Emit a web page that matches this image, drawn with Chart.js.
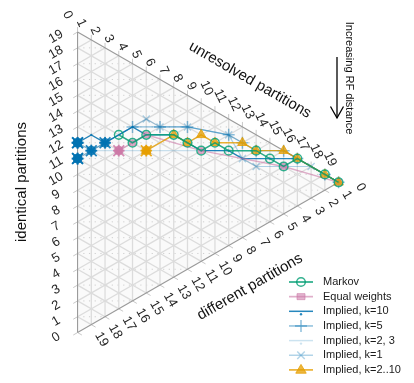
<!DOCTYPE html>
<html lang="en">
<head>
<meta charset="UTF-8">
<title>RF distance ternary</title>
<script src="https://cdn.jsdelivr.net/npm/chart.js"></script>
<style>
  body { margin: 0; background: #fff; }
</style>
</head>
<body>
<canvas id="tern" width="414" height="383"></canvas>
<script>
// partitions per tree; tick labels on each side
const nSplits = 19;
const tickLabels = [0, 1, 2, 3, 4, 5, 6, 7, 8, 9, 10, 11, 12, 13, 14, 15, 16, 17, 18, 19];

// each series: unresolved (u) and identical (i) partitions; different = 19 - u - i
const markovU = [3, 4, 5, 7, 8, 9, 10, 11, 13, 14, 15, 16, 18, 19];
const markovI = [11, 10, 10, 9, 8, 7, 7, 6, 5, 4, 3, 3, 1, 0];

const equalU = [3, 4, 5, 9, 15, 19];
const equalI = [10, 10, 10, 7, 3, 0];

const k10U = [0, 1, 2, 4, 5, 7, 8, 9, 11, 12, 14, 16, 18, 19];
const k10I = [12, 12, 11, 11, 10, 9, 8, 7, 6, 5, 4, 3, 1, 0];

const k5U = [0, 1, 2, 4, 6, 8, 11, 12, 13, 15, 16, 18, 19];
const k5I = [12, 11, 11, 11, 10, 9, 7, 6, 5, 4, 3, 1, 0];

const k23U = [0, 1, 3, 5, 9, 11, 13, 15, 17, 19];
const k23I = [11, 11, 10, 9, 7, 6, 5, 4, 2, 0];

const k1U = [0, 2, 5, 6, 8, 11, 12, 13, 15, 17, 19];
const k1I = [11, 11, 11, 10, 9, 7, 5, 4, 3, 2, 0];

const k210U = [5, 7, 8, 9, 10, 12, 13, 15, 16, 18, 19];
const k210I = [9, 9, 8, 8, 7, 6, 5, 4, 3, 1, 0];

const SQ3 = Math.sqrt(3);
function cart(u, i) { return { x: u * SQ3 / 2, y: i + u / 2 }; }
function toPoints(us, is) { return us.map((u, j) => cart(u, is[j])); }

const FONT = '"Liberation Sans", Arial, Helvetica, sans-serif';

const series = [
  { label: 'Markov', u: markovU, i: markovI, color: 'rgba(0,158,115,0.8)', fill: 'rgba(0,0,0,0)',
    style: 'circle', radius: 4.3, lw: 1.5, pbw: 1.5, order: 0, lead: 0 },
  { label: 'Equal weights', u: equalU, i: equalI, color: 'rgba(204,121,167,0.6)', fill: 'rgba(204,121,167,0.55)',
    style: 'rect', radius: 4, lw: 1.4, pbw: 1, order: 2, lead: 1 },
  { label: 'Implied, k=10', u: k10U, i: k10I, color: 'rgba(0,114,178,0.85)', fill: 'rgba(0,114,178,0.85)',
    style: 'circle', radius: 1.1, lw: 1.2, pbw: 0, order: 3, lead: 1 },
  { label: 'Implied, k=5', u: k5U, i: k5I, color: 'rgba(0,114,178,0.45)', fill: 'rgba(0,114,178,0.45)',
    style: 'cross', radius: 6, lw: 1.2, pbw: 1.5, order: 4, lead: 3 },
  { label: 'Implied, k=2, 3', u: k23U, i: k23I, color: 'rgba(0,114,178,0.2)', fill: 'rgba(0,114,178,0.2)',
    style: 'circle', radius: 1, lw: 1.2, pbw: 0, order: 6, lead: 1 },
  { label: 'Implied, k=1', u: k1U, i: k1I, color: 'rgba(0,114,178,0.3)', fill: 'rgba(0,114,178,0.3)',
    style: 'crossRot', radius: 5, lw: 1.2, pbw: 1.5, order: 5, lead: 1 },
  { label: 'Implied, k=2..10', u: k210U, i: k210I, color: 'rgba(230,159,0,0.8)', fill: 'rgba(230,159,0,0.75)',
    style: 'triangle', radius: 5.5, lw: 1.4, pbw: 1, order: 1, lead: 1 }
];

// pixel helper through the chart scales
function tp(chart, u, i) {
  const c = cart(u, i);
  return [chart.scales.x.getPixelForValue(c.x), chart.scales.y.getPixelForValue(c.y)];
}

function line(ctx, a, b) {
  ctx.beginPath(); ctx.moveTo(a[0], a[1]); ctx.lineTo(b[0], b[1]); ctx.stroke();
}

const gridPlugin = {
  id: 'ternGrid',
  beforeDatasetsDraw(chart) {
    const ctx = chart.ctx, N = nSplits;
    const A = tp(chart, 0, N), B = tp(chart, 0, 0), C = tp(chart, N, 0);
    ctx.save();
    ctx.beginPath();
    ctx.moveTo(A[0], A[1]); ctx.lineTo(C[0], C[1]); ctx.lineTo(B[0], B[1]); ctx.closePath();
    ctx.fillStyle = '#fafafa';
    ctx.fill();
    ctx.save();
    ctx.clip();
    // dotted minor rows
    ctx.strokeStyle = '#c4c4c4';
    ctx.lineWidth = 0.8;
    ctx.setLineDash([1.2, 4.5]);
    for (let k = 1; k < N; k++) {
      const y = chart.scales.y.getPixelForValue(k);
      line(ctx, [A[0], y], [C[0] + 2, y]);
    }
    ctx.restore();
    ctx.setLineDash([]);
    // major grid in the three directions
    ctx.strokeStyle = '#dcdcdc';
    ctx.lineWidth = 1.3;
    for (let k = 1; k < N; k++) {
      line(ctx, tp(chart, k, N - k), tp(chart, k, 0));
      line(ctx, tp(chart, 0, k), tp(chart, N - k, k));
      line(ctx, tp(chart, 0, N - k), tp(chart, N - k, 0));
    }
    // ticks outside the edges
    ctx.strokeStyle = '#c8c8c8';
    ctx.lineWidth = 1;
    const t = 5;
    for (let k = 0; k <= N; k++) {
      const l = tp(chart, 0, k);
      line(ctx, l, [l[0] - t * SQ3 / 2, l[1] + t / 2]);
      const tt = tp(chart, k, N - k);
      line(ctx, tt, [tt[0], tt[1] - t]);
      const b = tp(chart, N - k, 0);
      line(ctx, b, [b[0] + t * SQ3 / 2, b[1] + t / 2]);
    }
    // edges
    ctx.strokeStyle = '#9a9a9a';
    ctx.lineWidth = 1.1;
    line(ctx, A, B); line(ctx, A, C); line(ctx, B, C);
    ctx.restore();
  }
};

function marker(ctx, style, x, y, r, stroke, fill, bw) {
  ctx.save();
  ctx.strokeStyle = stroke; ctx.fillStyle = fill; ctx.lineWidth = bw;
  ctx.beginPath();
  if (style === 'circle') {
    ctx.arc(x, y, r, 0, Math.PI * 2);
    ctx.fill(); if (bw > 0) ctx.stroke();
  } else if (style === 'rect') {
    ctx.rect(x - r, y - r * 0.75, 2 * r, 1.5 * r);
    ctx.fill(); if (bw > 0) ctx.stroke();
  } else if (style === 'triangle') {
    ctx.moveTo(x, y - r); ctx.lineTo(x + r * 0.95, y + r * 0.6); ctx.lineTo(x - r * 0.95, y + r * 0.6); ctx.closePath();
    ctx.fill(); if (bw > 0) ctx.stroke();
  } else if (style === 'cross') {
    ctx.moveTo(x - r, y); ctx.lineTo(x + r, y); ctx.moveTo(x, y - r); ctx.lineTo(x, y + r); ctx.stroke();
  } else if (style === 'crossRot') {
    const d = r * 0.75;
    ctx.moveTo(x - d, y - d); ctx.lineTo(x + d, y + d); ctx.moveTo(x - d, y + d); ctx.lineTo(x + d, y - d); ctx.stroke();
  }
  ctx.restore();
}

// first points of a series are drawn as dense filled blobs (overlapping symbols)
const blobPlugin = {
  id: 'leadBlobs',
  afterDatasetsDraw(chart) {
    const ctx = chart.ctx;
    series.forEach((s, idx) => {
      const meta = chart.getDatasetMeta(idx);
      for (let j = 0; j < s.lead; j++) {
        const el = meta.data[j];
        if (!el) continue;
        const solid = s.color.replace(/[\d.]+\)$/, '0.85)');
        marker(ctx, 'circle', el.x, el.y, 4.8, solid, solid, 0);
        marker(ctx, 'cross', el.x, el.y, 5.8, solid, solid, 1.8);
        marker(ctx, 'crossRot', el.x, el.y, 7.2, solid, solid, 1.8);
      }
    });
  }
};

function text(ctx, str, x, y, rot, size, align) {
  ctx.save();
  ctx.translate(x, y);
  ctx.rotate(rot * Math.PI / 180);
  ctx.font = size + 'px ' + FONT;
  ctx.textAlign = align || 'center';
  ctx.textBaseline = 'middle';
  ctx.fillText(str, 0, 0);
  ctx.restore();
}

const labelPlugin = {
  id: 'ternLabels',
  afterDraw(chart) {
    const ctx = chart.ctx, N = nSplits;
    ctx.save();
    ctx.fillStyle = '#262626';
    tickLabels.forEach(k => {
      const s = String(k);
      const l = tp(chart, 0, k);
      text(ctx, s, l[0] - 21.5, l[1] + 4.7, -30, 13);
      const t = tp(chart, k, N - k);
      if (s.length === 1) text(ctx, s, t[0] - 10, t[1] - 17, 65, 13);
      else text(ctx, s, t[0] - 8.5, t[1] - 23, 65, 13);
      const b = tp(chart, N - k, 0);
      if (s.length === 1) text(ctx, s, b[0] + 22, b[1] + 5, 60, 13);
      else text(ctx, s, b[0] + 24, b[1] + 7, 60, 13);
    });
    ctx.fillStyle = '#111';
    text(ctx, 'identical partitions', 22, 182, -90, 15);
    text(ctx, 'unresolved partitions', 250, 80, 30, 15);
    text(ctx, 'different partitions', 250, 287, -30, 15);
    text(ctx, 'Increasing RF distance', 349, 78, 90, 11);
    // arrow
    ctx.strokeStyle = '#000';
    ctx.lineWidth = 1.3;
    line(ctx, [337, 57], [337, 118]);
    ctx.beginPath();
    ctx.moveTo(330.5, 106.5); ctx.lineTo(337, 118); ctx.lineTo(343.5, 106.5);
    ctx.stroke();
    // legend
    const y0 = 282, dy = 14.65;
    series.forEach((s, j) => {
      const y = y0 + j * dy;
      ctx.strokeStyle = s.color;
      ctx.lineWidth = s.lw + 0.3;
      line(ctx, [289, y], [313, y]);
      if (s.style === 'circle' && s.radius < 2) marker(ctx, 'circle', 301, y + 3, 1.2, s.color, s.color, 0);
      else marker(ctx, s.style, 301, y, s.radius, s.color, s.fill, s.pbw);
      ctx.fillStyle = '#1a1a1a';
      text(ctx, s.label, 323, y, 0, 11, 'left');
    });
    ctx.restore();
  }
};

const datasets = series.map(s => ({
  label: s.label,
  data: toPoints(s.u, s.i),
  showLine: true,
  borderColor: s.color,
  borderWidth: s.lw,
  backgroundColor: s.fill,
  pointStyle: s.style,
  pointRadius: s.radius,
  pointBorderWidth: s.pbw,
  pointBorderColor: s.color,
  pointBackgroundColor: s.fill,
  order: s.order,
  tension: 0
}));

// scale ranges so the triangle lands where it sits in the figure
const unit = 16.46;
new Chart(document.getElementById('tern'), {
  type: 'scatter',
  data: { datasets: datasets },
  options: {
    responsive: false,
    animation: false,
    devicePixelRatio: 1,
    layout: { padding: 0 },
    plugins: { legend: { display: false }, tooltip: { enabled: false } },
    scales: {
      x: { type: 'linear', display: false, min: -72.7 / unit, max: (414 - 72.7) / unit },
      y: { type: 'linear', display: false, min: (338.3 - 383) / unit, max: 338.3 / unit }
    }
  },
  plugins: [gridPlugin, blobPlugin, labelPlugin]
});
</script>
</body>
</html>
